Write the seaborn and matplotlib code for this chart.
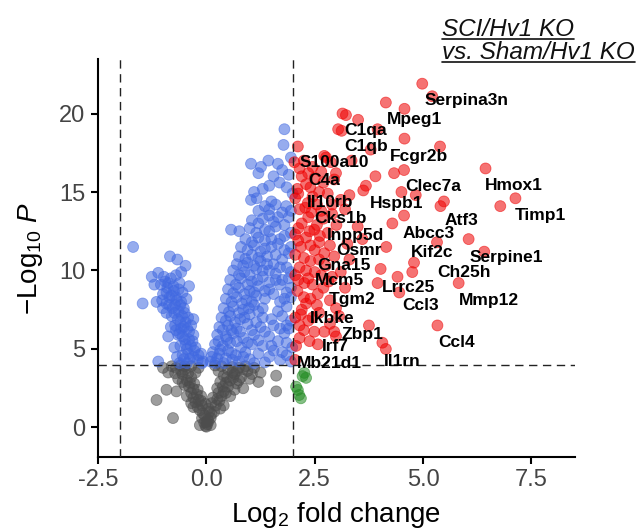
import numpy as np
import pandas as pd
import seaborn as sns
import matplotlib.pyplot as plt
from matplotlib.lines import Line2D

# ---- data (log2 fold change, -log10 p) ----
gray_pts = [
    (0.00, 0.05), (0.02, 0.2), (-0.05, 0.3), (0.05, 0.4), (-0.1, 0.6), (0.1, 0.6),
    (-0.08, 0.9), (0.12, 0.85), (-0.15, 1.1), (0.18, 1.0), (-0.2, 1.3), (0.05, 1.2),
    (-0.02, 1.5), (0.22, 1.4), (-0.25, 1.6), (0.3, 1.7), (-0.3, 1.9), (0.35, 2.0),
    (-0.12, 2.0), (0.15, 1.9), (-0.35, 2.2), (0.4, 2.3), (-0.2, 2.4), (0.25, 2.5),
    (-0.4, 2.6), (0.5, 2.6), (-0.28, 2.8), (0.32, 2.9), (-0.45, 3.0), (0.55, 3.0),
    (-0.35, 3.2), (0.4, 3.3), (-0.55, 3.4), (0.65, 3.4), (-0.25, 3.5), (0.28, 3.6),
    (-0.5, 3.7), (0.5, 3.7), (-0.7, 3.8), (0.75, 3.8), (-0.35, 3.9), (0.35, 3.9),
    (-0.6, 3.95), (0.9, 3.9), (0.6, 3.5), (-0.65, 3.1), (0.8, 3.2), (-0.5, 2.7),
    (0.7, 2.8), (0.95, 3.6), (1.1, 3.8), (1.0, 3.1), (0.85, 2.5), (-0.45, 2.0),
    (0.55, 2.0), (-0.3, 1.3), (0.4, 1.4), (-1.15, 1.75), (-0.77, 0.6), (-0.92, 2.4),
    (-0.69, 2.3), (1.61, 2.3), (1.61, 3.3), (-0.88, 3.5), (-1.0, 3.8), (1.25, 3.5),
    (-0.15, 0.15), (0.1, 0.15), (1.2, 2.9),
    (0.03, 0.5), (-0.04, 0.75), (0.07, 1.0), (-0.1, 1.4), (0.12, 1.55), (-0.18, 1.75),
    (0.25, 1.8), (-0.22, 2.1), (0.28, 2.2), (-0.3, 2.45), (0.38, 2.6), (-0.38, 2.85),
    (0.45, 2.85), (-0.42, 3.45), (0.48, 3.2), (-0.5, 3.9), (0.6, 3.85), (-0.58, 3.6),
    (0.7, 3.6), (-0.72, 3.45), (0.85, 3.7), (0.62, 3.15), (-0.55, 2.9), (0.75, 3.0),
    (0.65, 2.4), (-0.35, 1.55), (0.32, 1.2), (-0.02, 0.1), (0.0, 0.35), (1.05, 3.4),
    (-0.8, 3.9), (0.2, 3.95), (-0.18, 3.8), (0.45, 2.2), (-0.12, 1.7),
]

blue_pts = [
    # left arm
    (-1.69, 11.5), (-1.47, 7.9), (-0.84, 10.9), (-0.67, 10.7), (-0.48, 10.3), (-1.26, 9.6),
    (-1.11, 9.85), (-1.11, 4.2), (-0.88, 5.8), (-1.0, 7.6), (-0.95, 9.3), (-1.05, 9.1),
    (-0.82, 9.5), (-0.7, 9.7), (-0.9, 8.9), (-0.75, 8.7), (-0.62, 9.2), (-1.0, 8.5),
    (-0.85, 8.3), (-0.68, 8.1), (-0.55, 8.6), (-0.92, 7.9), (-0.78, 7.6), (-0.6, 7.8),
    (-0.5, 7.3), (-0.8, 7.1), (-0.66, 6.9), (-0.48, 6.7), (-0.72, 6.5), (-0.58, 6.3),
    (-0.4, 6.1), (-0.65, 5.9), (-0.5, 5.6), (-0.32, 5.5), (-0.6, 5.2), (-0.45, 5.0),
    (-0.28, 4.9), (-0.55, 4.6), (-0.38, 4.4), (-0.2, 4.3), (-0.12, 4.7), (-0.62, 4.1),
    (-0.3, 5.9), (-0.42, 7.0), (-0.35, 6.5), (-0.7, 6.2), (-0.52, 7.6), (-0.58, 9.9),
    (-1.15, 8.0), (-0.45, 4.1), (-0.08, 4.2),
    (-0.98, 9.6), (-0.88, 9.2), (-0.76, 9.0), (-0.64, 8.8), (-0.92, 8.6), (-0.8, 8.4),
    (-0.7, 8.3), (-0.58, 8.0), (-0.86, 7.8), (-0.72, 7.8), (-0.64, 7.4), (-0.56, 7.1),
    (-0.74, 7.3), (-0.6, 6.7), (-0.52, 6.4), (-0.44, 6.3), (-0.62, 6.0), (-0.55, 5.8),
    (-0.4, 5.6), (-0.48, 5.3), (-0.36, 5.2), (-0.25, 5.1), (-0.42, 4.7), (-0.3, 4.5),
    (-0.18, 4.6), (-0.1, 4.1), (-0.52, 4.35), (-0.68, 4.5), (-0.74, 5.1), (-0.82, 6.4),
    (-0.92, 7.3), (-1.02, 8.1), (-1.2, 9.1), (-0.46, 8.2), (-0.4, 9.0), (-0.3, 6.9),
    # right arm
    (0.1, 4.2), (0.25, 4.4), (0.4, 4.1), (0.6, 4.3), (0.75, 4.2), (1.0, 4.35),
    (1.35, 4.15), (1.7, 4.3), (1.95, 4.2), (0.15, 4.8), (0.3, 4.7), (0.5, 4.9),
    (0.68, 4.6), (0.9, 4.8), (1.2, 4.7), (1.55, 4.9), (1.85, 4.6), (0.2, 5.3),
    (0.38, 5.2), (0.55, 5.4), (0.8, 5.1), (1.05, 5.3), (1.3, 5.2), (1.65, 5.5),
    (1.98, 5.1), (0.25, 5.9), (0.45, 5.8), (0.62, 6.0), (0.85, 5.7), (1.1, 5.9),
    (1.45, 5.8), (1.8, 6.0), (0.3, 6.4), (0.5, 6.5), (0.7, 6.3), (0.95, 6.6),
    (1.25, 6.4), (1.55, 6.5), (1.9, 6.3), (0.35, 7.0), (0.55, 7.1), (0.78, 6.9),
    (1.0, 7.2), (1.3, 7.0), (1.75, 7.1), (1.95, 6.8), (0.4, 7.6), (0.62, 7.7),
    (0.85, 7.5), (1.1, 7.8), (1.3, 7.6), (1.85, 7.7), (0.45, 8.2), (0.7, 8.3),
    (0.92, 8.1), (1.15, 8.4), (1.55, 8.5), (1.8, 8.2), (0.5, 8.8), (0.75, 8.9),
    (1.0, 8.7), (1.2, 9.0), (1.45, 8.8), (1.7, 9.1), (1.95, 8.9), (0.55, 9.4),
    (0.8, 9.5), (1.05, 9.3), (1.3, 9.6), (1.6, 9.4), (1.9, 9.5), (0.62, 10.0),
    (0.88, 9.9), (1.15, 10.1), (1.45, 10.0), (1.85, 10.2), (0.7, 10.4), (0.95, 10.5),
    (1.25, 10.6), (1.55, 10.4), (1.75, 10.7), (0.75, 10.9), (1.05, 11.0), (1.4, 10.9),
    (1.9, 11.1), (0.8, 11.5), (1.1, 11.6), (1.35, 11.4), (1.65, 11.7), (1.95, 11.5),
    (0.9, 12.0), (1.2, 12.1), (1.5, 12.0), (1.8, 12.2), (0.57, 12.6), (0.76, 12.5),
    (1.0, 12.7), (1.35, 12.6), (1.6, 12.8), (1.05, 13.2), (1.3, 13.3), (1.55, 13.1),
    (1.9, 13.4), (1.2, 13.8), (1.45, 13.9), (1.75, 13.7), (1.03, 14.5), (1.16, 14.6),
    (1.5, 14.4), (1.84, 14.1), (1.99, 14.9), (1.3, 15.2), (1.69, 15.6), (1.55, 16.0),
    (1.9, 16.1), (1.03, 16.8), (1.26, 16.6), (1.75, 16.4), (1.43, 17.0), (1.78, 18.0),
    (0.12, 4.5), (0.2, 4.1), (0.32, 4.95), (0.45, 4.4), (0.58, 4.75), (0.85, 4.5),
    (1.1, 4.1), (1.45, 4.5), (1.75, 4.8), (0.28, 5.5), (0.48, 5.6), (0.7, 5.5),
    (0.95, 5.4), (1.2, 5.55), (1.5, 5.2), (1.85, 5.4), (0.38, 6.2), (0.58, 6.2),
    (0.78, 6.1), (1.05, 6.2), (1.35, 6.1), (1.7, 6.3), (0.45, 6.8), (0.66, 6.7),
    (0.88, 7.0), (1.15, 6.7), (1.5, 6.9), (1.85, 6.5), (0.52, 7.35), (0.75, 7.3),
    (0.98, 7.6), (1.2, 7.4), (1.65, 7.4), (0.58, 8.0), (0.82, 7.9), (1.05, 8.0),
    (1.35, 8.2), (1.7, 8.0), (1.95, 8.3), (0.62, 8.55), (0.88, 8.5), (1.1, 8.6),
    (1.35, 8.7), (1.85, 8.6), (0.68, 9.1), (0.95, 9.1), (1.18, 9.4), (1.45, 9.25),
    (1.75, 9.4), (0.75, 9.7), (1.0, 9.7), (1.3, 10.0), (1.6, 9.8), (1.95, 9.9),
    (0.85, 10.3), (1.1, 10.3), (1.4, 10.4), (1.7, 10.2), (0.9, 10.75), (1.2, 10.8),
    (1.6, 11.0), (1.8, 11.3), (0.95, 11.3), (1.25, 11.2), (1.5, 11.5), (1.05, 11.8),
    (1.35, 11.9), (1.7, 12.0), (1.95, 12.4), (1.15, 12.4), (1.45, 12.5), (1.8, 12.9),
    (1.2, 13.0), (1.45, 13.5), (1.65, 13.4), (1.95, 13.8), (1.35, 14.1), (1.6, 14.2),
    (1.1, 15.0), (1.45, 15.4), (1.85, 15.3), (1.2, 16.2), (1.65, 16.8), (1.95, 17.2),
    (1.8, 19.0),
]

green_pts = [
    (2.22, 3.27), (2.26, 3.48), (2.30, 3.16), (2.11, 2.39), (2.14, 2.07), (2.18, 1.86),
    (2.07, 2.6),
]

red_pts = [
    (4.98, 21.9), (5.21, 21.1), (4.14, 20.7), (4.57, 20.3), (3.14, 20.0), (3.22, 19.9),
    (3.50, 19.6), (3.04, 19.0), (3.12, 18.9), (3.95, 19.0), (4.57, 18.4), (5.39, 17.9),
    (2.11, 17.9), (3.79, 17.7), (2.72, 17.3), (2.03, 16.9), (2.87, 16.9), (4.33, 16.2),
    (4.56, 16.4), (6.44, 16.5), (2.30, 15.5), (2.95, 15.8), (3.68, 15.4), (3.62, 15.1),
    (4.83, 14.8), (7.13, 14.6), (6.78, 14.1), (5.48, 14.4), (5.40, 14.1), (2.34, 14.3),
    (3.10, 14.5), (4.56, 13.5), (4.29, 13.0), (2.20, 13.0), (2.49, 12.6), (3.49, 12.8),
    (6.05, 12.0), (5.32, 11.8), (2.18, 11.5), (2.72, 11.1), (2.50, 11.3), (6.41, 11.2),
    (4.79, 10.5), (4.02, 10.1), (4.41, 9.6), (4.75, 9.9), (2.26, 9.2), (5.82, 9.2),
    (3.95, 9.2), (4.45, 8.6), (2.30, 7.9), (2.57, 8.5), (2.99, 7.6), (3.06, 7.1),
    (5.33, 6.5), (2.15, 6.5), (2.49, 6.1), (2.72, 6.1), (2.95, 6.1), (2.57, 5.3),
    (4.06, 5.4), (4.14, 5.0), (2.07, 5.2), (2.99, 5.8), (2.76, 17.2), (2.99, 16.2),
    (2.2, 16.0), (2.5, 15.9), (2.1, 15.2), (2.6, 15.0), (2.8, 14.9), (3.3, 14.8),
    (2.05, 14.6), (2.45, 14.7), (2.15, 13.9), (2.65, 13.8), (2.9, 13.6), (3.2, 13.9),
    (2.35, 13.4), (2.05, 12.3), (2.8, 12.4), (3.0, 12.9), (2.3, 12.1), (2.6, 11.8),
    (3.25, 11.7), (2.05, 11.0), (2.95, 10.9), (2.4, 10.6), (2.15, 10.2), (2.75, 10.3),
    (3.3, 10.7), (2.5, 9.9), (2.05, 9.7), (2.9, 9.6), (2.35, 9.5), (3.1, 9.9),
    (2.1, 8.7), (2.7, 8.9), (2.4, 8.2), (2.2, 7.5), (2.85, 8.1), (2.05, 7.0),
    (2.6, 7.3), (2.35, 6.8), (2.15, 5.7), (4.5, 15.0), (3.9, 16.0), (3.35, 17.0),
    (3.6, 12.0), (4.15, 11.5), (3.75, 6.5), (2.05, 4.3),
    (2.25, 17.0), (2.45, 16.6), (2.15, 16.5), (2.65, 16.3), (2.35, 16.2), (2.12, 14.9),
    (2.4, 15.3), (2.7, 15.6), (2.28, 14.0), (2.55, 14.2), (2.9, 14.2), (2.42, 13.7),
    (2.7, 13.3), (2.12, 12.7), (2.55, 12.9), (2.38, 12.5), (2.62, 12.2), (2.12, 11.9),
    (2.4, 11.6), (2.85, 11.6), (2.25, 10.8), (2.6, 10.7), (2.3, 10.0), (2.65, 9.7),
    (2.12, 9.4), (2.45, 9.1), (2.82, 9.3), (2.25, 8.3), (2.55, 7.8), (2.18, 7.2),
    (2.45, 7.0), (2.25, 6.2), (2.38, 5.5), (2.85, 6.6), (3.2, 8.9),
]

genes = ["Serpina3n", "Mpeg1", "C1qa", "C1qb", "Fcgr2b", "S100a10", "C4a", "Clec7a",
         "Hmox1", "Il10rb", "Hspb1", "Cks1b", "Atf3", "Timp1", "Inpp5d", "Abcc3",
         "Osmr", "Kif2c", "Serpine1", "Gna15", "Ch25h", "Mcm5", "Lrrc25", "Tgm2",
         "Ccl3", "Mmp12", "Ikbke", "Zbp1", "Ccl4", "Irf7", "Il1rn", "Mb21d1"]
gene_x = [6.00, 4.81, 3.67, 3.68, 4.90, 2.94, 2.72, 5.23, 7.09, 2.85, 4.38, 3.10,
          5.89, 7.70, 3.45, 5.13, 3.52, 5.20, 6.92, 3.18, 5.94, 3.08, 4.66, 3.37,
          4.95, 6.51, 2.90, 3.59, 5.78, 2.98, 4.51, 2.84]
gene_y = [20.8, 19.6, 18.95, 17.9, 17.25, 16.86, 15.76, 15.34, 15.4, 14.3, 14.26, 13.3,
          13.2, 13.5, 12.26, 12.37, 11.26, 11.13, 10.84, 10.29, 9.86, 9.35, 8.93, 8.17,
          7.74, 8.12, 6.96, 5.9, 5.4, 5.15, 4.19, 4.09]

fc_cutoff = 2.0
p_cutoff = 4.0

# ---- build table ----
frames = []
for name, pts in [("NS", gray_pts), ("P", blue_pts), ("FC", green_pts), ("FC_P", red_pts)]:
    arr = np.array(pts)
    frames.append(pd.DataFrame({"log2fc": arr[:, 0], "nlogp": arr[:, 1], "group": name}))
df = pd.concat(frames, ignore_index=True)

palette = {"NS": "#4D4D4D", "P": "#4169E1", "FC": "#228B22", "FC_P": "#EE0000"}

sns.set_theme(style="white")
plt.rcParams["font.family"] = ["Liberation Sans", "DejaVu Sans"]
plt.rcParams["mathtext.fontset"] = "custom"
plt.rcParams["mathtext.rm"] = "Liberation Sans"
plt.rcParams["mathtext.it"] = "Liberation Sans:italic"
plt.rcParams["mathtext.bf"] = "Liberation Sans:bold"

fig = plt.figure(figsize=(6.38, 5.32), dpi=100)
ax = fig.add_axes([0.1536, 0.141, 0.7474, 0.748])

sns.scatterplot(data=df, x="log2fc", y="nlogp", hue="group", palette=palette,
                s=62, alpha=0.55, linewidth=0.6, edgecolor=None, legend=False,
                ax=ax, zorder=2)
# edges the same colour as faces
coll = ax.collections[0]
coll.set_edgecolors(coll.get_facecolors())

for xv in (-fc_cutoff, fc_cutoff):
    ax.axvline(xv, color="#222222", lw=1.0, ls=(0, (6, 4)), zorder=3)
ax.axhline(p_cutoff, color="#222222", lw=1.0, ls=(0, (6, 4)), zorder=3)

for g, gx, gy in zip(genes, gene_x, gene_y):
    ax.text(gx, gy, g, ha="center", va="center", fontsize=12.5, fontweight="bold",
            color="black", zorder=4)

ax.set_xlim(-2.5, 8.5)
ax.set_ylim(-1.88, 23.47)
ax.set_xticks([-2.5, 0.0, 2.5, 5.0, 7.5])
ax.set_xticklabels(["-2.5", "0.0", "2.5", "5.0", "7.5"])
ax.set_yticks([0, 5, 10, 15, 20])

for side in ("top", "right"):
    ax.spines[side].set_visible(False)
for side in ("left", "bottom"):
    ax.spines[side].set_color("black")
    ax.spines[side].set_linewidth(1.5)
ax.tick_params(axis="both", which="major", length=5, width=1.5, color="black",
               labelsize=17, labelcolor="#444444", pad=4, left=True, bottom=True)

ax.set_xlabel("Log$_{2}$ fold change", fontsize=20, color="black", labelpad=6)
ax.set_ylabel(r"$-$Log$_{10}$ $\mathit{P}$", fontsize=20, color="black", labelpad=10)

# title top right, italic and underlined
base1, base2 = 0.932, 0.889
t1 = fig.text(0.693, base1, "SCI/Hv1 KO", fontsize=17.5, style="italic",
              ha="left", va="baseline", color="#111111")
t2 = fig.text(0.693, base2, "vs. Sham/Hv1 KO", fontsize=17.5, style="italic",
              ha="left", va="baseline", color="#111111")
fig.canvas.draw()
r = fig.canvas.get_renderer()
for t, yb in ((t1, base1), (t2, base2)):
    bb = t.get_window_extent(r).transformed(fig.transFigure.inverted())
    fig.add_artist(Line2D([bb.x0, bb.x1], [yb - 0.006, yb - 0.006],
                          transform=fig.transFigure, color="#111111", lw=1.2))

fig.savefig("out.png", dpi=100)
